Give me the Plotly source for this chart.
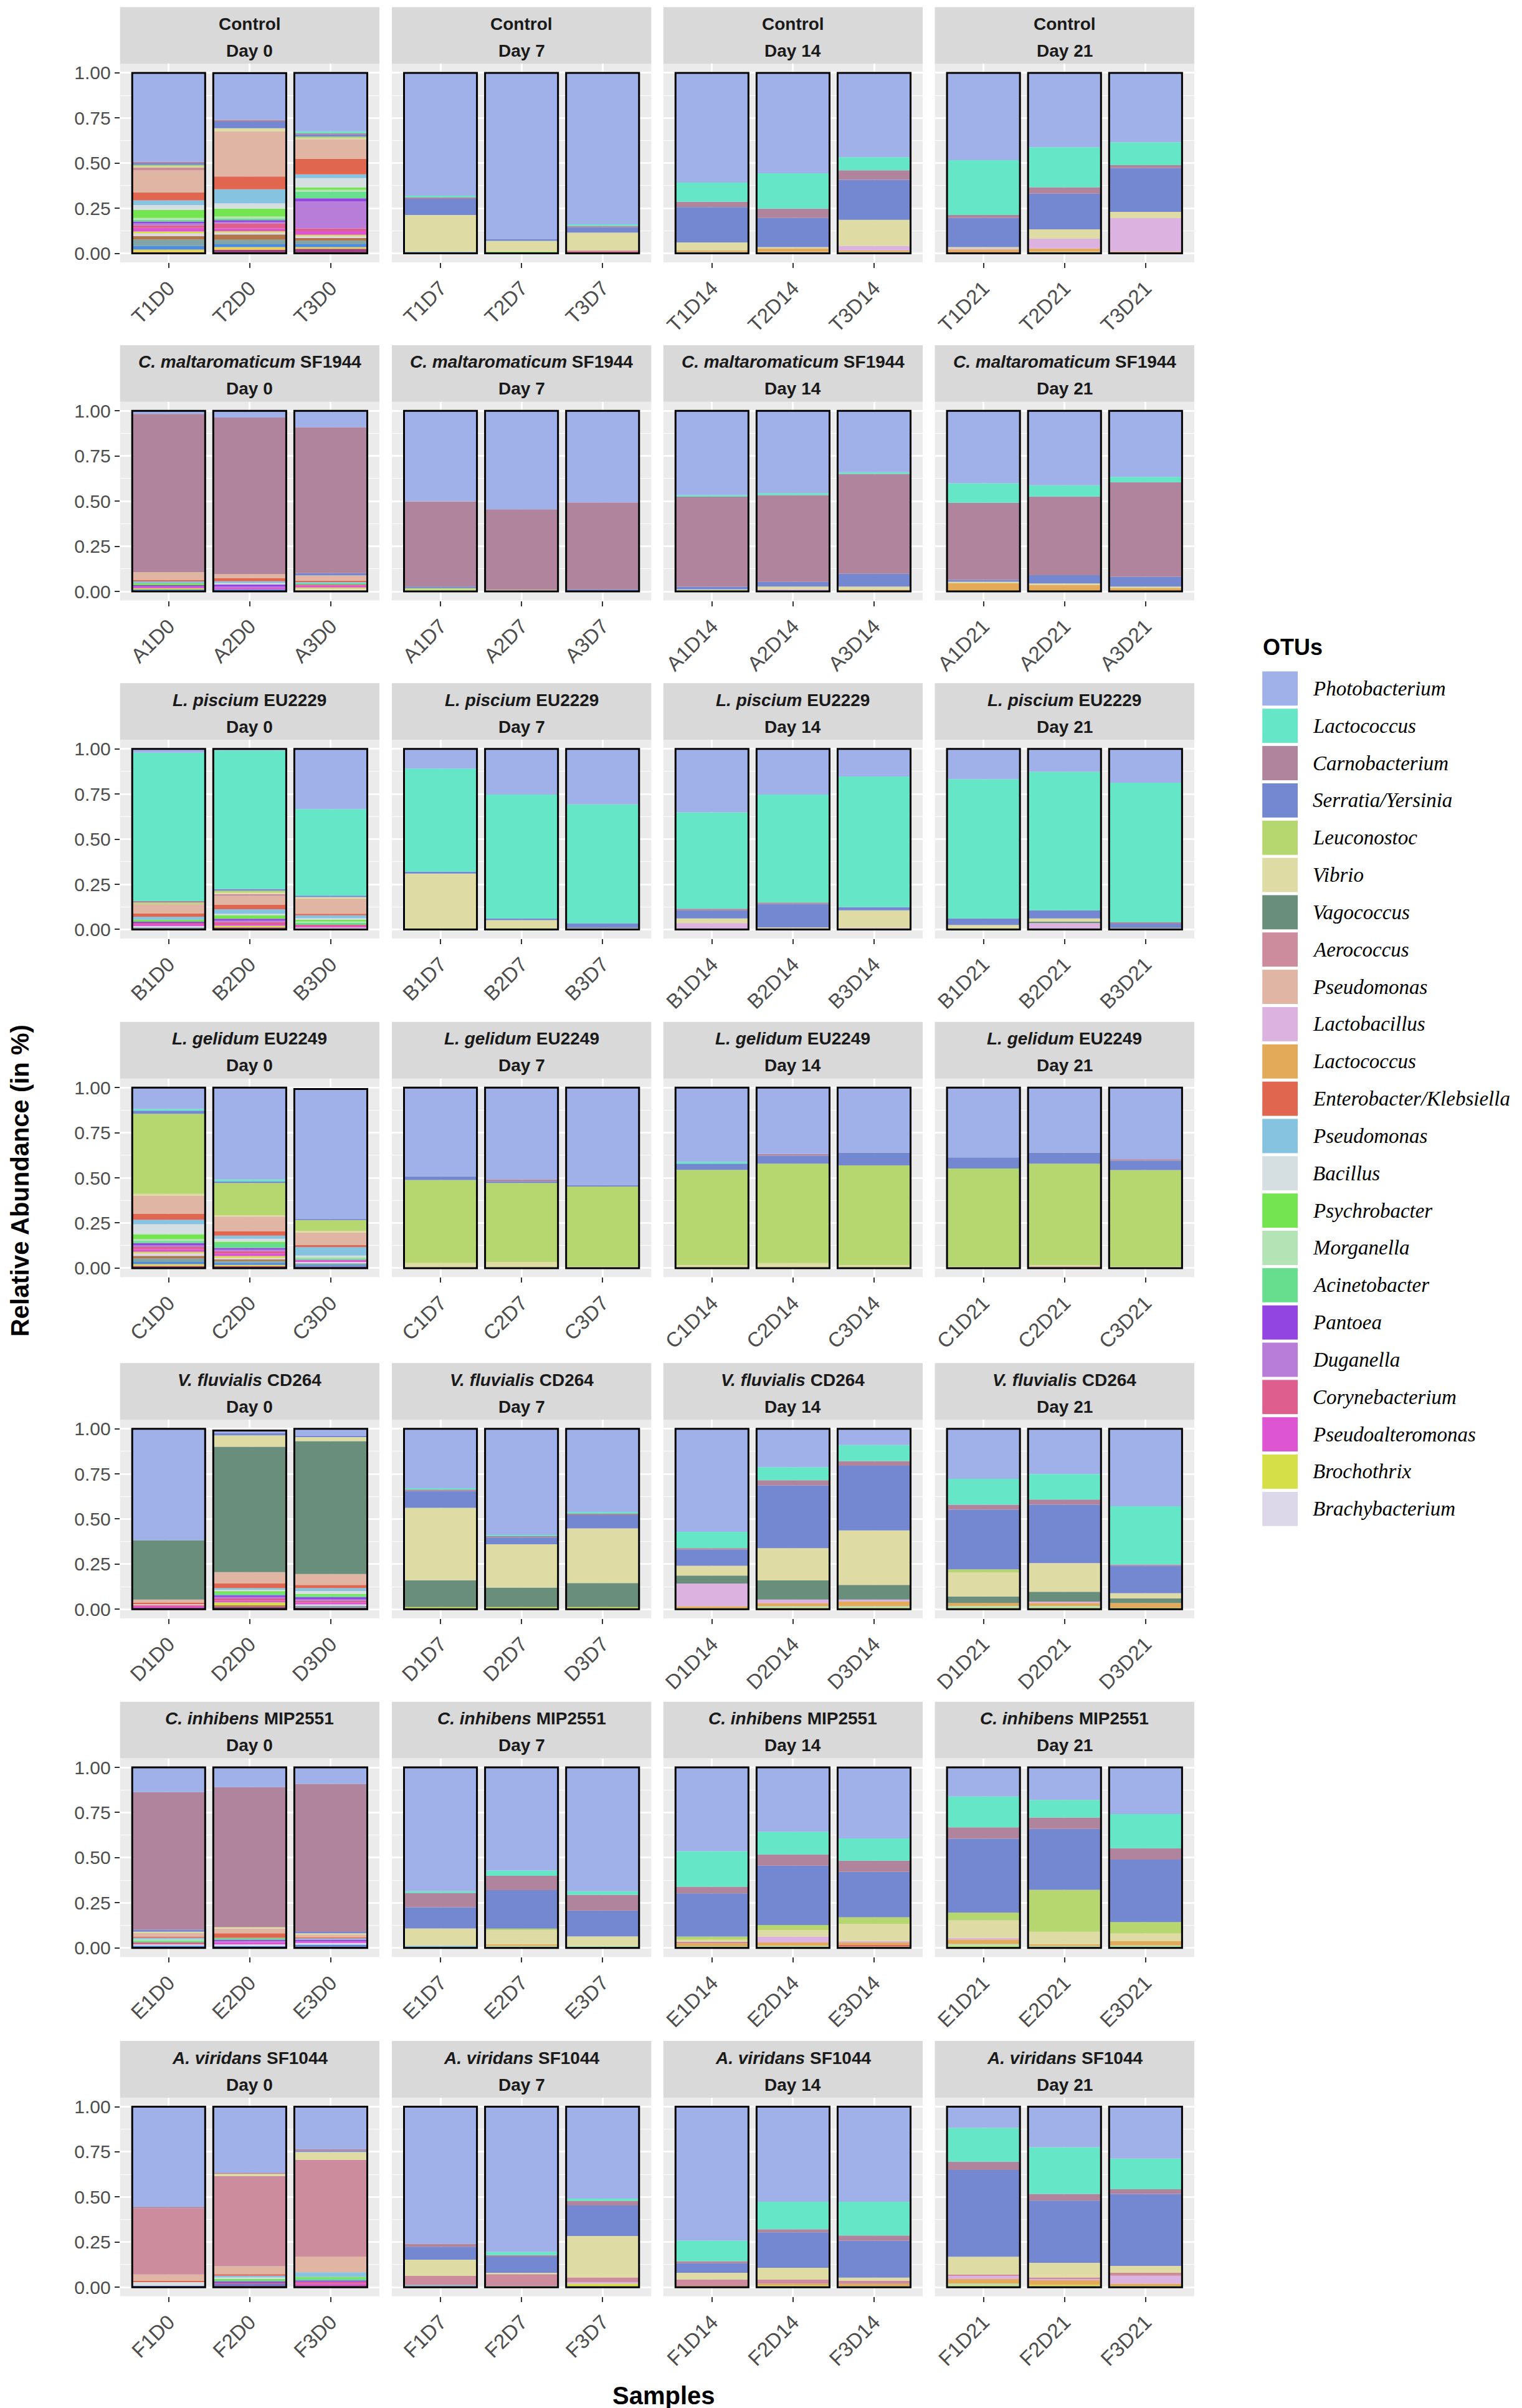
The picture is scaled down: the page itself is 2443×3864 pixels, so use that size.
import plotly.graph_objects as go

# ---- categories ----
treatments = ["Control", "<i>C. maltaromaticum</i> SF1944", "<i>L. piscium</i> EU2229",
              "<i>L. gelidum</i> EU2249", "<i>V. fluvialis</i> CD264",
              "<i>C. inhibens</i> MIP2551", "<i>A. viridans</i> SF1044"]
prefixes = ["T", "A", "B", "C", "D", "E", "F"]
days = [0, 7, 14, 21]
day_labels = ["Day 0", "Day 7", "Day 14", "Day 21"]
replicates = [1, 2, 3]
samples = [f"{p}{r}D{d}" for p in prefixes for d in days for r in replicates]

# ---- relative abundance per OTU (order: T, A, B, C, D, E, F; days 0/7/14/21; reps 1-3) ----
photobacterium = [
    0.493, 0.260, 0.324, 0.680, 0.922, 0.839, 0.608, 0.556, 0.467, 0.484, 0.412, 0.384,
    0.017, 0.037, 0.090, 0.501, 0.545, 0.507, 0.467, 0.455, 0.340, 0.401, 0.412, 0.366,
    0.021, 0.009, 0.333, 0.109, 0.253, 0.307, 0.351, 0.253, 0.153, 0.167, 0.126, 0.187,
    0.118, 0.509, 0.718, 0.492, 0.509, 0.540, 0.411, 0.368, 0.360, 0.387, 0.360, 0.397,
    0.617, 0.015, 0.038, 0.329, 0.588, 0.461, 0.571, 0.213, 0.090, 0.277, 0.251, 0.429,
    0.137, 0.109, 0.091, 0.686, 0.571, 0.686, 0.464, 0.356, 0.392, 0.161, 0.180, 0.259,
    0.555, 0.365, 0.235, 0.759, 0.804, 0.509, 0.741, 0.526, 0.526, 0.117, 0.224, 0.287,
]
lactococcus = [
    0, 0, 0.010, 0.009, 0, 0.009, 0.106, 0.196, 0.073, 0.303, 0.222, 0.127,
    0, 0, 0, 0, 0, 0, 0.008, 0.012, 0.009, 0.108, 0.062, 0.029,
    0.822, 0.767, 0.480, 0.571, 0.686, 0.659, 0.534, 0.598, 0.723, 0.772, 0.768, 0.773,
    0.010, 0.011, 0, 0, 0, 0, 0.010, 0, 0, 0, 0, 0,
    0, 0, 0, 0.008, 0.007, 0.010, 0.090, 0.072, 0.089, 0.144, 0.141, 0.323,
    0, 0, 0, 0.009, 0.029, 0.020, 0.197, 0.126, 0.124, 0.171, 0.098, 0.189,
    0, 0, 0, 0, 0.018, 0.012, 0.115, 0.153, 0.188, 0.188, 0.259, 0.170,
]
carnobacterium = [
    0.008, 0.009, 0.007, 0.009, 0, 0.008, 0.029, 0.052, 0.052, 0.017, 0.035, 0.017,
    0.876, 0.867, 0.809, 0.472, 0.446, 0.482, 0.499, 0.480, 0.553, 0.427, 0.436, 0.524,
    0.008, 0, 0, 0, 0, 0, 0.009, 0.008, 0, 0, 0, 0.006,
    0, 0, 0, 0, 0.010, 0, 0, 0.009, 0, 0, 0, 0.008,
    0, 0, 0, 0.009, 0.008, 0.006, 0.008, 0.029, 0.026, 0.027, 0.029, 0.007,
    0.762, 0.776, 0.820, 0.080, 0.080, 0.087, 0.037, 0.062, 0.062, 0.063, 0.063, 0.063,
    0.008, 0.007, 0.009, 0.017, 0.008, 0.026, 0.011, 0.017, 0.028, 0.045, 0.037, 0.026,
]
serratia = [
    0.009, 0.037, 0.012, 0.089, 0.009, 0.029, 0.196, 0.161, 0.222, 0.161, 0.198, 0.242,
    0, 0, 0.012, 0.009, 0, 0.011, 0.015, 0.026, 0.071, 0.010, 0.046, 0.054,
    0, 0.009, 0.008, 0.010, 0.009, 0.026, 0.045, 0.130, 0.018, 0.036, 0.045, 0.026,
    0.017, 0.008, 0.008, 0.020, 0.009, 0.008, 0.035, 0.044, 0.071, 0.061, 0.061, 0.052,
    0, 0.012, 0.008, 0.092, 0.037, 0.075, 0.090, 0.347, 0.358, 0.331, 0.323, 0.152,
    0.011, 0, 0.008, 0.117, 0.213, 0.143, 0.239, 0.329, 0.251, 0.409, 0.337, 0.346,
    0, 0, 0.007, 0.071, 0.090, 0.169, 0.053, 0.196, 0.205, 0.481, 0.345, 0.399,
]
leuconostoc = [
    0.008, 0, 0.009, 0, 0, 0, 0, 0, 0, 0, 0, 0,
    0, 0, 0, 0.008, 0, 0, 0, 0, 0, 0, 0, 0,
    0.008, 0.011, 0, 0, 0, 0, 0, 0, 0, 0, 0, 0,
    0.444, 0.180, 0.059, 0.459, 0.438, 0.443, 0.527, 0.551, 0.552, 0.543, 0.562, 0.534,
    0, 0, 0, 0, 0, 0, 0, 0, 0, 0.017, 0, 0,
    0, 0, 0, 0, 0.008, 0, 0.017, 0.028, 0.037, 0.043, 0.232, 0.063,
    0, 0, 0, 0, 0, 0, 0, 0, 0, 0, 0, 0,
]
vibrio = [
    0.007, 0.017, 0.005, 0.204, 0.060, 0.098, 0.044, 0.007, 0.144, 0.008, 0.052, 0.035,
    0, 0, 0, 0.010, 0.009, 0, 0.011, 0.015, 0.017, 0.009, 0.008, 0.008,
    0, 0.008, 0.007, 0.310, 0.052, 0.008, 0.026, 0.011, 0.098, 0.025, 0.018, 0.008,
    0.011, 0.007, 0.010, 0.029, 0.034, 0.009, 0.017, 0.028, 0.017, 0.009, 0.008, 0.009,
    0, 0.063, 0.023, 0.401, 0.240, 0.303, 0.054, 0.179, 0.302, 0.133, 0.159, 0.029,
    0.008, 0.008, 0.006, 0.096, 0.078, 0.053, 0.012, 0.036, 0.095, 0.098, 0.069, 0.043,
    0, 0.013, 0.044, 0.090, 0.008, 0.230, 0.037, 0.066, 0.017, 0.098, 0.081, 0.038,
]
vagococcus = [
    0, 0, 0, 0, 0, 0, 0, 0, 0, 0, 0, 0,
    0, 0, 0, 0, 0, 0, 0, 0, 0, 0, 0, 0,
    0, 0, 0, 0, 0, 0, 0, 0, 0, 0, 0.008, 0,
    0, 0, 0, 0, 0, 0, 0, 0, 0, 0, 0, 0,
    0.329, 0.694, 0.736, 0.149, 0.108, 0.133, 0.044, 0.106, 0.081, 0.036, 0.054, 0.025,
    0, 0, 0, 0, 0, 0, 0, 0, 0, 0, 0, 0,
    0, 0, 0, 0, 0, 0, 0, 0, 0, 0, 0, 0,
]
aerococcus = [
    0.014, 0, 0, 0, 0, 0.008, 0, 0, 0, 0, 0, 0,
    0, 0, 0, 0, 0, 0, 0, 0, 0, 0, 0, 0,
    0, 0.010, 0, 0, 0, 0, 0, 0, 0, 0, 0, 0,
    0, 0, 0, 0, 0, 0, 0, 0, 0, 0, 0.009, 0,
    0, 0, 0, 0, 0, 0, 0, 0, 0, 0, 0, 0,
    0, 0, 0, 0, 0, 0, 0.008, 0, 0, 0, 0, 0,
    0.366, 0.499, 0.535, 0.051, 0.064, 0.026, 0.035, 0.022, 0.017, 0.008, 0.006, 0.016,
]
pseudomonas = [
    0.124, 0.250, 0.109, 0, 0, 0, 0, 0, 0, 0, 0, 0,
    0.043, 0.023, 0.029, 0, 0, 0, 0, 0, 0, 0, 0, 0,
    0.053, 0.050, 0.085, 0, 0, 0, 0, 0, 0, 0, 0, 0,
    0.098, 0.080, 0.070, 0, 0, 0, 0, 0, 0, 0, 0, 0,
    0.017, 0.063, 0.060, 0, 0, 0, 0, 0, 0, 0, 0, 0,
    0.020, 0.026, 0.015, 0, 0, 0, 0, 0, 0, 0, 0, 0,
    0.035, 0.044, 0.087, 0, 0, 0, 0, 0, 0, 0, 0, 0,
]
lactobacillus = [
    0, 0, 0, 0, 0, 0, 0, 0, 0.025, 0.005, 0.054, 0.184,
    0, 0, 0, 0, 0, 0, 0, 0.012, 0, 0, 0, 0,
    0, 0, 0, 0, 0, 0, 0.035, 0, 0.008, 0, 0.035, 0,
    0, 0, 0, 0, 0, 0, 0, 0, 0, 0, 0, 0,
    0, 0, 0, 0, 0, 0, 0.126, 0.020, 0.011, 0, 0.008, 0,
    0, 0, 0, 0, 0, 0, 0, 0.033, 0.008, 0.008, 0, 0,
    0, 0, 0, 0, 0, 0.008, 0, 0, 0, 0.017, 0.006, 0.044,
]
lactococcus_2 = [
    0, 0, 0, 0, 0, 0, 0.009, 0.020, 0.009, 0.022, 0.018, 0.011,
    0, 0, 0, 0, 0, 0, 0, 0, 0.010, 0.045, 0.036, 0.019,
    0, 0, 0, 0, 0, 0, 0, 0, 0, 0, 0, 0,
    0, 0, 0, 0, 0, 0, 0, 0, 0, 0, 0, 0,
    0, 0, 0, 0, 0, 0, 0.009, 0.017, 0.026, 0.017, 0.017, 0.026,
    0, 0, 0, 0, 0.010, 0, 0.016, 0.018, 0.012, 0.025, 0.010, 0.023,
    0, 0, 0, 0, 0, 0, 0.008, 0.010, 0.011, 0.026, 0.029, 0.012,
]
enterobacter = [
    0.043, 0.071, 0.086, 0, 0, 0, 0, 0, 0, 0, 0, 0,
    0.009, 0.017, 0.008, 0, 0, 0, 0, 0, 0, 0, 0, 0,
    0.017, 0.024, 0.009, 0, 0, 0, 0, 0, 0, 0, 0, 0,
    0.034, 0.025, 0.010, 0, 0, 0, 0, 0, 0, 0, 0, 0,
    0.006, 0.025, 0.017, 0, 0, 0, 0, 0, 0, 0, 0, 0,
    0.006, 0.025, 0.006, 0, 0, 0, 0, 0, 0.010, 0, 0, 0,
    0.006, 0.008, 0, 0, 0, 0, 0, 0, 0, 0, 0, 0,
]
pseudomonas_2 = [
    0.026, 0.078, 0.021, 0.009, 0, 0, 0, 0, 0, 0, 0, 0,
    0.010, 0.010, 0.006, 0, 0, 0, 0, 0, 0, 0, 0, 0,
    0.017, 0.025, 0.016, 0, 0, 0, 0, 0, 0, 0, 0, 0,
    0.025, 0.017, 0.047, 0, 0, 0, 0, 0, 0, 0, 0, 0,
    0, 0.010, 0.017, 0, 0, 0, 0, 0, 0, 0, 0, 0,
    0.008, 0, 0.008, 0.012, 0, 0, 0, 0, 0, 0, 0, 0,
    0, 0.010, 0.025, 0.012, 0, 0, 0, 0, 0, 0, 0, 0,
]
bacillus = [
    0.028, 0.029, 0.052, 0, 0, 0, 0, 0, 0, 0, 0, 0,
    0, 0.008, 0, 0, 0, 0, 0, 0, 0, 0, 0, 0,
    0, 0.008, 0.008, 0, 0, 0, 0, 0, 0, 0, 0, 0,
    0.055, 0.017, 0.008, 0, 0, 0, 0, 0, 0, 0, 0, 0,
    0.008, 0.008, 0.016, 0, 0, 0, 0, 0, 0, 0, 0, 0,
    0, 0, 0, 0, 0, 0, 0, 0, 0, 0, 0, 0,
    0.015, 0.006, 0, 0, 0.008, 0, 0, 0, 0, 0, 0, 0,
]
psychrobacter = [
    0.044, 0.044, 0.013, 0, 0.009, 0, 0, 0, 0, 0, 0, 0,
    0.010, 0, 0, 0, 0, 0, 0, 0, 0, 0, 0, 0,
    0.011, 0.020, 0.010, 0, 0, 0, 0, 0, 0, 0, 0, 0,
    0.027, 0.008, 0, 0, 0, 0, 0, 0, 0, 0, 0, 0,
    0, 0.012, 0.010, 0, 0, 0, 0, 0, 0, 0, 0, 0,
    0, 0, 0, 0, 0, 0, 0, 0, 0, 0, 0, 0,
    0, 0.006, 0.008, 0, 0, 0, 0, 0, 0, 0, 0, 0,
]
morganella = [
    0.010, 0.010, 0.010, 0, 0, 0, 0.008, 0.008, 0.008, 0, 0.009, 0,
    0, 0, 0, 0, 0, 0, 0, 0, 0, 0, 0, 0,
    0, 0, 0.008, 0, 0, 0, 0, 0, 0, 0, 0, 0,
    0.010, 0, 0.008, 0, 0, 0, 0, 0, 0, 0, 0, 0,
    0, 0, 0, 0, 0, 0, 0, 0.008, 0.008, 0.009, 0.009, 0,
    0.006, 0, 0, 0, 0.011, 0.011, 0.010, 0.012, 0.008, 0.012, 0.011, 0.014,
    0, 0, 0, 0, 0, 0, 0, 0, 0, 0.010, 0, 0,
]
acinetobacter = [
    0.010, 0.010, 0.037, 0, 0, 0, 0, 0, 0, 0, 0, 0,
    0, 0, 0.008, 0, 0, 0, 0, 0, 0, 0, 0, 0,
    0, 0, 0.010, 0, 0, 0, 0, 0, 0, 0, 0, 0,
    0.012, 0.026, 0.008, 0, 0, 0, 0, 0, 0, 0, 0, 0,
    0, 0.010, 0.008, 0, 0, 0, 0, 0, 0, 0, 0, 0,
    0.012, 0.010, 0, 0, 0, 0, 0, 0, 0, 0, 0, 0,
    0, 0.010, 0.012, 0, 0, 0, 0, 0, 0, 0, 0, 0,
]
pantoea = [
    0.010, 0.010, 0.017, 0, 0, 0, 0, 0, 0, 0, 0, 0,
    0.008, 0.010, 0, 0, 0, 0, 0, 0, 0, 0, 0, 0,
    0.006, 0.010, 0, 0, 0, 0, 0, 0, 0, 0, 0, 0,
    0.012, 0.010, 0, 0, 0, 0, 0, 0, 0, 0, 0, 0,
    0, 0.010, 0.012, 0, 0, 0, 0, 0, 0, 0, 0, 0,
    0, 0.008, 0.010, 0, 0, 0, 0, 0, 0, 0, 0, 0,
    0, 0.006, 0.008, 0, 0, 0, 0, 0, 0, 0, 0, 0,
]
duganella = [
    0.010, 0.008, 0.150, 0, 0, 0, 0, 0, 0, 0, 0, 0,
    0, 0.007, 0, 0, 0, 0, 0, 0, 0, 0, 0, 0,
    0, 0.008, 0, 0, 0, 0, 0, 0, 0, 0, 0, 0,
    0.010, 0.008, 0, 0, 0, 0, 0, 0, 0, 0, 0, 0,
    0, 0.008, 0.008, 0, 0, 0, 0, 0, 0, 0, 0, 0,
    0, 0.006, 0, 0, 0, 0, 0, 0, 0, 0, 0, 0,
    0, 0, 0, 0, 0, 0, 0, 0, 0, 0, 0, 0,
]
corynebacterium = [
    0.015, 0.028, 0.015, 0, 0, 0.009, 0, 0, 0, 0, 0, 0,
    0, 0, 0.006, 0, 0, 0, 0, 0, 0, 0, 0, 0,
    0.008, 0.012, 0.006, 0, 0, 0, 0, 0, 0, 0, 0, 0,
    0.012, 0.012, 0, 0, 0, 0, 0, 0, 0, 0, 0, 0,
    0.008, 0.012, 0.010, 0, 0, 0, 0, 0, 0, 0, 0, 0,
    0.010, 0, 0, 0, 0, 0, 0, 0, 0, 0, 0, 0,
    0, 0.008, 0.010, 0, 0, 0, 0, 0, 0, 0, 0, 0,
]
pseudoalteromonas = [
    0.020, 0.015, 0.020, 0, 0, 0, 0, 0, 0, 0, 0, 0,
    0.010, 0.010, 0.010, 0, 0, 0, 0, 0, 0, 0, 0, 0,
    0.010, 0.008, 0.010, 0, 0, 0, 0, 0, 0, 0, 0, 0,
    0.015, 0.015, 0.012, 0, 0, 0, 0, 0, 0, 0, 0, 0,
    0.006, 0.010, 0.010, 0, 0, 0, 0, 0, 0, 0, 0, 0,
    0, 0.012, 0.008, 0, 0, 0, 0, 0, 0, 0, 0, 0,
    0, 0, 0.010, 0, 0, 0, 0, 0, 0, 0, 0, 0,
]
brochothrix = [
    0.010, 0.008, 0.008, 0, 0, 0, 0, 0, 0, 0, 0, 0,
    0.005, 0, 0.008, 0, 0, 0, 0, 0, 0, 0, 0, 0,
    0, 0.010, 0, 0, 0, 0, 0, 0, 0, 0, 0, 0,
    0.008, 0.010, 0, 0, 0, 0, 0, 0, 0, 0, 0, 0,
    0, 0.015, 0, 0.012, 0.012, 0.012, 0.008, 0.009, 0.009, 0.009, 0.009, 0.009,
    0, 0, 0, 0, 0, 0, 0, 0, 0, 0.010, 0, 0,
    0, 0, 0, 0, 0, 0.020, 0, 0.010, 0.008, 0.010, 0.013, 0.008,
]
brachybacterium = [
    0.015, 0.010, 0.010, 0, 0, 0, 0, 0, 0, 0, 0, 0,
    0, 0, 0.006, 0, 0, 0, 0, 0, 0, 0, 0, 0,
    0.008, 0, 0.010, 0, 0, 0, 0, 0, 0, 0, 0, 0,
    0.014, 0.008, 0.008, 0, 0, 0, 0, 0, 0, 0, 0, 0,
    0, 0, 0.008, 0, 0, 0, 0, 0, 0, 0, 0, 0,
    0.008, 0.010, 0.010, 0, 0, 0, 0, 0, 0, 0, 0, 0,
    0.007, 0, 0, 0, 0, 0, 0, 0, 0, 0, 0, 0,
]
# minor OTUs not listed in the legend
other_1 = [
    0.020, 0.030, 0.015, 0, 0, 0, 0, 0, 0, 0, 0, 0,
    0, 0, 0, 0, 0, 0, 0, 0, 0, 0, 0, 0,
    0, 0, 0, 0, 0, 0, 0, 0, 0, 0, 0, 0,
    0.014, 0.010, 0, 0, 0, 0, 0, 0, 0, 0, 0, 0,
    0, 0.010, 0, 0, 0, 0, 0, 0, 0, 0, 0, 0,
    0, 0, 0, 0, 0, 0, 0, 0, 0, 0, 0, 0,
    0, 0, 0, 0, 0, 0, 0, 0, 0, 0, 0, 0,
]
other_2 = [
    0.035, 0.025, 0.020, 0, 0, 0, 0, 0, 0, 0, 0, 0,
    0, 0, 0, 0, 0, 0, 0, 0, 0, 0, 0, 0,
    0.011, 0, 0, 0, 0, 0, 0, 0, 0, 0, 0, 0,
    0.020, 0.010, 0.010, 0, 0, 0, 0, 0, 0, 0, 0, 0,
    0, 0, 0.009, 0, 0, 0, 0, 0, 0, 0, 0, 0,
    0, 0, 0, 0, 0, 0, 0, 0, 0, 0, 0, 0,
    0, 0, 0, 0, 0, 0, 0, 0, 0, 0, 0, 0,
]
other_3 = [
    0.020, 0.015, 0.015, 0, 0, 0, 0, 0, 0, 0, 0, 0,
    0.006, 0.011, 0, 0, 0, 0, 0, 0, 0, 0, 0, 0,
    0, 0, 0, 0, 0, 0, 0, 0, 0, 0, 0, 0,
    0.012, 0.011, 0.008, 0, 0, 0, 0, 0, 0, 0, 0, 0,
    0, 0, 0, 0, 0, 0, 0, 0, 0, 0, 0, 0,
    0.006, 0.010, 0.010, 0, 0, 0, 0, 0, 0, 0, 0, 0,
    0.008, 0.008, 0, 0, 0, 0, 0, 0, 0, 0, 0, 0,
]
other_4 = [
    0.021, 0.015, 0.010, 0, 0, 0, 0, 0, 0, 0, 0, 0,
    0.006, 0, 0.008, 0, 0, 0, 0, 0, 0, 0, 0, 0,
    0, 0, 0, 0, 0, 0, 0, 0, 0, 0, 0, 0,
    0.010, 0.008, 0, 0, 0, 0, 0, 0, 0, 0, 0, 0,
    0, 0, 0, 0, 0, 0, 0, 0, 0, 0, 0, 0,
    0, 0, 0, 0, 0, 0, 0, 0, 0, 0, 0, 0,
    0, 0, 0, 0, 0, 0, 0, 0, 0, 0, 0, 0,
]
other_5 = [
    0, 0.020, 0.025, 0, 0, 0, 0, 0, 0, 0, 0, 0,
    0, 0, 0, 0, 0, 0, 0, 0, 0, 0, 0, 0,
    0, 0.011, 0, 0, 0, 0, 0, 0, 0, 0, 0, 0,
    0.012, 0.010, 0.008, 0, 0, 0, 0, 0, 0, 0, 0, 0,
    0.009, 0.013, 0.010, 0, 0, 0, 0, 0, 0, 0, 0, 0,
    0.006, 0, 0.008, 0, 0, 0, 0, 0, 0, 0, 0, 0,
    0, 0.010, 0.010, 0, 0, 0, 0, 0, 0, 0, 0, 0,
]

legend_names = ["Photobacterium", "Lactococcus", "Carnobacterium", "Serratia/Yersinia",
                "Leuconostoc", "Vibrio", "Vagococcus", "Aerococcus", "Pseudomonas",
                "Lactobacillus", "Lactococcus", "Enterobacter/Klebsiella", "Pseudomonas",
                "Bacillus", "Psychrobacter", "Morganella", "Acinetobacter", "Pantoea",
                "Duganella", "Corynebacterium", "Pseudoalteromonas", "Brochothrix",
                "Brachybacterium"]
legend_colors = ["#A0B1E9", "#65E6C6", "#B0849C", "#7388D0", "#B6D66F", "#DFDBA5",
                 "#698E7B", "#CC8C9E", "#E0B5A4", "#DCB3E0", "#E2AA59", "#E06650",
                 "#86C3E0", "#D5DEE0", "#74E550", "#B4E3B5", "#66DE8E", "#9245E0",
                 "#B77DD8", "#DE5F8D", "#DD55D2", "#D5E048", "#DCD8EA"]
other_colors = ["#B0764A", "#7FA5A8", "#4C8BE0", "#EBD24A", "#9E3F86"]

series = [photobacterium, lactococcus, carnobacterium, serratia, leuconostoc, vibrio,
          vagococcus, aerococcus, pseudomonas, lactobacillus, lactococcus_2, enterobacter,
          pseudomonas_2, bacillus, psychrobacter, morganella, acinetobacter, pantoea,
          duganella, corynebacterium, pseudoalteromonas, brochothrix, brachybacterium,
          other_1, other_2, other_3, other_4, other_5]
series_names = legend_names + ["Other"] * 5
series_colors = legend_colors + other_colors

# ---- layout geometry (pixels) ----
W, H = 2443, 3864
col_left = [181, 618, 1054.5, 1491]
panel_w = 417
row_one = [107, 650, 1193, 1737, 2285, 2829, 3374]  # y pixel of 1.00
unit = 290
pad = 14.5
strip_h = 91
FONT = "Liberation Sans, Arial, sans-serif"

fig = go.Figure()
shapes = []
annotations = []

for r in range(7):
    for c in range(4):
        k = r * 4 + c
        sfx = "" if k == 0 else str(k + 1)
        names = samples[k * 3:k * 3 + 3]
        base = [0.0, 0.0, 0.0]
        # ggplot stacks the first level on top: draw from the last series upward
        for vals_all, name, col in zip(reversed(series), reversed(series_names), reversed(series_colors)):
            vals = vals_all[k * 3:k * 3 + 3]
            if sum(vals) == 0:
                continue
            fig.add_trace(go.Bar(
                x=names, y=vals, base=base, width=0.9, name=name,
                marker=dict(color=col, line=dict(width=0)),
                xaxis="x" + sfx, yaxis="y" + sfx, showlegend=False))
            base = [b + v for b, v in zip(base, vals)]
        # black outline around whole bar
        fig.add_trace(go.Bar(
            x=names, y=base, base=[0, 0, 0], width=0.9,
            marker=dict(color="rgba(0,0,0,0)", line=dict(color="black", width=3)),
            xaxis="x" + sfx, yaxis="y" + sfx, showlegend=False, hoverinfo="skip"))

        top_px = row_one[r] - pad
        bot_px = row_one[r] + unit + pad
        x0 = col_left[c] / W
        x1 = (col_left[c] + panel_w) / W
        fig.layout["xaxis" + sfx] = dict(
            domain=[x0, x1], anchor="y" + sfx, type="category",
            categoryorder="array", categoryarray=names, range=[-0.6, 2.6],
            tickangle=-45, tickfont=dict(size=33, color="#4D4D4D", family=FONT),
            ticks="outside", ticklen=8, tickwidth=2, tickcolor="#333333",
            showgrid=True, gridcolor="white", gridwidth=2.5,
            zeroline=False, showline=False, fixedrange=True)
        fig.layout["yaxis" + sfx] = dict(
            domain=[1 - bot_px / H, 1 - top_px / H], anchor="x" + sfx,
            range=[-0.05, 1.05], tickmode="array",
            tickvals=[0, 0.25, 0.5, 0.75, 1.0],
            ticktext=["0.00", "0.25", "0.50", "0.75", "1.00"],
            showticklabels=(c == 0), ticks="outside" if c == 0 else "",
            ticklen=8, tickwidth=2, tickcolor="#333333",
            tickfont=dict(size=30, color="#4D4D4D", family=FONT),
            showgrid=True, gridcolor="white", gridwidth=2.5,
            minor=dict(tickmode="array", tickvals=[0.125, 0.375, 0.625, 0.875],
                       showgrid=True, gridcolor="white", gridwidth=1.2, ticks=""),
            zeroline=False, showline=False, fixedrange=True)

        # facet strip
        s_top = top_px - strip_h
        shapes.append(dict(type="rect", xref="paper", yref="paper",
                           x0=x0, x1=x1, y0=1 - top_px / H, y1=1 - s_top / H,
                           fillcolor="#D9D9D9", line=dict(width=0), layer="below"))
        xc = (x0 + x1) / 2
        annotations.append(dict(text="<b>" + treatments[r] + "</b>", x=xc, y=1 - (s_top + 27) / H,
                                xref="paper", yref="paper", showarrow=False,
                                xanchor="center", yanchor="middle",
                                font=dict(size=28, color="#1A1A1A", family=FONT)))
        annotations.append(dict(text="<b>" + day_labels[c] + "</b>", x=xc, y=1 - (s_top + 70) / H,
                                xref="paper", yref="paper", showarrow=False,
                                xanchor="center", yanchor="middle",
                                font=dict(size=28, color="#1A1A1A", family=FONT)))

# axis titles
annotations.append(dict(text="<b>Relative Abundance (in %)</b>", x=20 / W, y=1 - 1886 / H,
                        xref="paper", yref="paper", showarrow=False, textangle=-90,
                        xanchor="center", yanchor="middle",
                        font=dict(size=40, color="black", family=FONT)))
annotations.append(dict(text="<b>Samples</b>", x=1055 / W, y=1 - 3838 / H,
                        xref="paper", yref="paper", showarrow=False,
                        xanchor="center", yanchor="middle",
                        font=dict(size=40, color="black", family=FONT)))

# legend (drawn manually to match ggplot key size)
annotations.append(dict(text="<b>OTUs</b>", x=2016 / W, y=1 - 1030 / H,
                        xref="paper", yref="paper", showarrow=False,
                        xanchor="left", yanchor="middle",
                        font=dict(size=36, color="black", family=FONT)))
for i, (nm, col) in enumerate(zip(legend_names, legend_colors)):
    cy = 1096 + i * 59.9
    shapes.append(dict(type="rect", xref="paper", yref="paper",
                       x0=2017 / W, x1=2075 / W, y0=1 - (cy + 28) / H, y1=1 - (cy - 28) / H,
                       fillcolor=col, line=dict(color="white", width=1)))
    annotations.append(dict(text="<i>" + nm + "</i>", x=2096 / W, y=1 - cy / H,
                            xref="paper", yref="paper", showarrow=False,
                            xanchor="left", yanchor="middle",
                            font=dict(size=33, color="black",
                                      family="Liberation Serif, Times New Roman, serif")))

fig.update_layout(
    width=W, height=H, margin=dict(l=0, r=0, t=0, b=0),
    barmode="overlay", showlegend=False,
    plot_bgcolor="#EBEBEB", paper_bgcolor="white",
    shapes=shapes, annotations=annotations,
    font=dict(family=FONT),
)

fig.write_html("out.html")
